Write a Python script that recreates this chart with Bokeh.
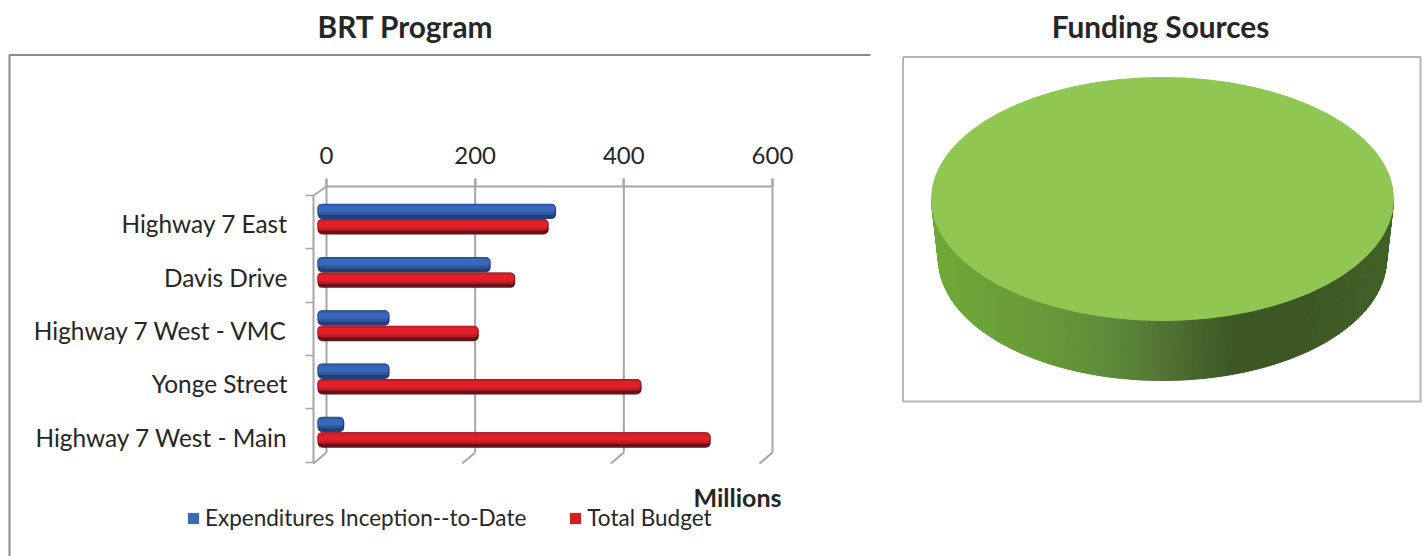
import numpy as np
from bokeh.plotting import figure
from bokeh.models import Range1d, LinearAxis, FixedTicker, Label, Legend, LegendItem, ColumnDataSource
from bokeh.layouts import row
from bokeh.transform import dodge
from bokeh.embed import file_html
from bokeh.resources import INLINE

categories = ["Highway 7 East", "Davis Drive", "Highway 7 West - VMC", "Yonge Street", "Highway 7 West - Main"]
expenditures = [321, 233, 97, 97, 36]
total_budget = [311, 266, 217, 436, 529]
x_ticks = [0, 200, 400, 600]
series_names = ["Expenditures Inception--to-Date", "Total Budget"]
funding_values = [100]

FONT = "Lato"
TEXT = "#262626"
GREY = "#a6a6a6"
W_L, W_R, H = 872, 552, 556

# layout helpers: page pixels to chart units
PX = 446 / 600
ROW = 53.3
def fx(px): return (px - 326) / PX
def fy(py): return 1 + (py - 225) / ROW

rows = [i + 1 for i in range(len(categories))]
src = ColumnDataSource(dict(y=rows, exp=expenditures, tot=total_budget, zero=[0] * len(rows)))

p = figure(width=W_L, height=H, output_backend="svg", toolbar_location=None,
           x_range=Range1d(fx(0), fx(W_L)), y_range=Range1d(fy(H), fy(0)),
           x_axis_location=None, y_axis_location=None, min_border=0,
           outline_line_color=None)
p.grid.visible = False

ax = LinearAxis(fixed_location=fy(186), ticker=FixedTicker(ticks=x_ticks), bounds=(x_ticks[0], x_ticks[-1]))
ax.axis_line_color = GREY
ax.axis_line_width = 2
ax.major_tick_line_color = GREY
ax.major_tick_line_width = 2
ax.major_tick_in = 0
ax.major_tick_out = 8
ax.minor_tick_line_color = None
ax.major_label_standoff = 15
ax.major_label_text_font = FONT
ax.major_label_text_font_size = "24px"
ax.major_label_text_color = TEXT
p.add_layout(ax, "above")

wall_top, wall_bot = fy(195), fy(463)
label_rows = [round(r - 0.03, 2) for r in rows]
ay = LinearAxis(fixed_location=fx(313), ticker=FixedTicker(ticks=label_rows, minor_ticks=[fy(195 + i * ROW) for i in range(6)]),
                bounds=(wall_top, wall_bot))
ay.major_label_overrides = {r: c for r, c in zip(label_rows, categories)}
ay.axis_line_color = GREY
ay.axis_line_width = 2
ay.major_tick_line_color = None
ay.major_tick_in = 0
ay.major_tick_out = 0
ay.minor_tick_line_color = GREY
ay.minor_tick_line_width = 1.5
ay.minor_tick_in = 0
ay.minor_tick_out = 8
ay.major_label_standoff = 18
ay.major_label_text_font = FONT
ay.major_label_text_font_size = "24.4px"
ay.major_label_text_color = TEXT
p.add_layout(ay, "left")

# back-wall gridlines, floor and wall diagonals
DX = fx(326 - 13)
p.segment(x0=x_ticks, y0=[fy(178)] * len(x_ticks), x1=x_ticks, y1=[fy(452)] * len(x_ticks), line_color=GREY, line_width=2)
p.segment(x0=[t + DX for t in x_ticks], y0=[fy(463)] * len(x_ticks), x1=x_ticks, y1=[fy(452)] * len(x_ticks),
          line_color=GREY, line_width=2)
p.segment(x0=[DX], y0=[fy(195)], x1=[0], y1=[fy(186)], line_color=GREY, line_width=2)

# outer box lines
p.line(x=[fx(870), fx(9), fx(9)], y=[fy(54.5), fy(54.5), fy(556)], line_color="#8c8c8c", line_width=2)

# bars, built from shaded layers to imitate the cylinder look
BASE = -9 / PX
H_BAR = 0.29
def shaded(col, off, base_col, layers):
    p.hbar(y=dodge("y", off), left=dodge("zero", BASE), right=dodge(col, BASE), height=H_BAR, source=src,
           fill_color=base_col, line_color=None, border_radius=5)
    for d, h, c in layers:
        p.hbar(y=dodge("y", off + d), left=dodge("zero", BASE), right=dodge(col, BASE - 1 / PX), height=h, source=src,
               fill_color=c, line_color=None, border_radius=4)

shaded("exp", -0.265, "#233f75", [(-0.035, 0.21, "#2d57a1"), (-0.045, 0.12, "#3a68b8")])
shaded("tot", 0.025, "#66121a", [(-0.035, 0.21, "#bf1d25"), (-0.045, 0.12, "#e32029")])

# legend swatches are drawn flat
l1 = p.hbar(y=[1], left=[0], right=[0], height=0, fill_color="#3d69b4", line_color=None)
l2 = p.hbar(y=[1], left=[0], right=[0], height=0, fill_color="#cc2027", line_color=None)
legend = Legend(items=[LegendItem(label=series_names[0], renderers=[l1]), LegendItem(label=series_names[1], renderers=[l2])],
                orientation="horizontal", location=(186, 25), border_line_color=None, background_fill_alpha=0,
                glyph_width=14, glyph_height=14, label_standoff=5, spacing=42, padding=0, margin=0,
                label_text_font=FONT, label_text_font_size="22.5px", label_text_color=TEXT)
p.add_layout(legend, "center")

p.add_layout(Label(x=fx(405), y=fy(26), text="BRT Program", text_font=FONT, text_font_style="bold",
                   text_font_size="29.8px", text_color=TEXT, text_align="center", text_baseline="middle"))
p.add_layout(Label(x=fx(781), y=fy(496), text="Millions", text_font=FONT, text_font_style="bold",
                   text_font_size="25px", text_color=TEXT, text_align="right", text_baseline="middle"))

# ---- right chart: one-slice 3D pie
RX, RY = 231, 121.5
CX, CY = 1162, 198.5
q = figure(width=W_R, height=H, output_backend="svg", toolbar_location=None,
           x_range=Range1d(W_L - CX, W_L + W_R - CX), y_range=Range1d(CY - H, CY),
           x_axis_location=None, y_axis_location=None, min_border=0, outline_line_color=None)
q.grid.visible = False

q.line(x=[902.5 - CX, 1420 - CX, 1420 - CX, 902.5 - CX, 902.5 - CX], y=[CY - 56.5, CY - 56.5, CY - 401, CY - 401, CY - 56.5],
       line_color="#b5b5b5", line_width=2)

BX, DEPTH = 224, 60
stops_x = np.array([-1.0, -0.55, -0.25, 0.05, 0.3, 0.6, 1.0])
stops_c = np.array([[112, 170, 56], [104, 155, 56], [95, 140, 58], [80, 112, 50], [60, 88, 38], [60, 86, 36], [66, 98, 40]], float)
th = np.linspace(np.pi, 0, 161)
xs, ys, cols = [], [], []
for a, b in zip(th[:-1], th[1:]):
    xs.append([RX * np.cos(a), RX * np.cos(b), BX * np.cos(b), BX * np.cos(a)])
    ys.append([-RY * np.sin(a), -RY * np.sin(b), -RY * np.sin(b) - DEPTH, -RY * np.sin(a) - DEPTH])
    m = (np.cos(a) + np.cos(b)) / 2
    cols.append("#%02x%02x%02x" % tuple(int(np.interp(m, stops_x, stops_c[:, i])) for i in range(3)))
q.patches(xs, ys, fill_color=cols, line_color=cols, line_width=1)
q.wedge(x=[0], y=[0], radius=[RX], start_angle=[0], end_angle=[2 * np.pi * funding_values[0] / 100], fill_alpha=0, line_alpha=0)
q.ellipse(x=[0], y=[0], width=[2 * RX], height=[2 * RY], fill_color="#8fc752", line_color="#8fc752")
q.add_layout(Label(x=1160 - CX, y=CY - 26, text="Funding Sources", text_font=FONT, text_font_style="bold",
                   text_font_size="29.8px", text_color=TEXT, text_align="center", text_baseline="middle"))

layout = row(p, q, spacing=0)
open("out.html", "w").write(file_html(layout, INLINE))
